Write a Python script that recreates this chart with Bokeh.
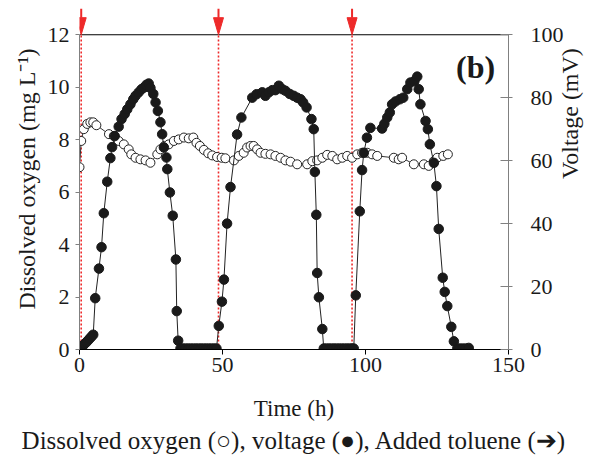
import math
from bokeh.plotting import figure
from bokeh.models import (Range1d, LinearAxis, FixedTicker, Label, Title, ColumnDataSource)
from bokeh.embed import file_html
from bokeh.resources import INLINE

# ---- data ----
do_time = [0.0, 0.6, 1.5, 2.7, 3.8, 4.8, 5.9, 10.3, 12.0, 13.7, 15.5, 17.2, 18.1, 19.6,
           21.3, 23.1, 24.8, 27.2, 28.3, 29.7, 31.2, 33.0, 34.7, 36.5, 38.2, 39.8, 40.9,
           42.1, 43.5, 45.0, 46.4, 48.1, 49.7, 51.0, 54.0, 55.7, 57.4, 58.6, 59.8, 60.9,
           62.1, 63.3, 65.0, 66.8, 68.5, 70.3, 72.0, 73.8, 76.1, 79.6, 81.4, 83.1, 84.9,
           86.6, 88.4, 90.1, 91.9, 93.6, 95.3, 97.1, 98.8, 100.6, 102.3, 104.1, 109.9,
           111.6, 112.8, 116.9, 120.4, 122.1, 123.9, 125.1, 127.2, 128.8]
do_value = [6.95, 7.95, 8.4, 8.6, 8.66, 8.66, 8.55, 8.21, 8.14, 7.95, 7.82, 7.63, 7.44, 7.31,
            7.25, 7.21, 7.12, 7.44, 7.63, 7.76, 7.82, 7.95, 8.01, 8.08, 8.05, 8.08, 7.88,
            7.76, 7.61, 7.48, 7.40, 7.34, 7.31, 7.29, 7.21, 7.38, 7.5, 7.7, 7.76, 7.76,
            7.63, 7.5, 7.46, 7.44, 7.38, 7.31, 7.21, 7.16, 7.06, 7.06, 7.18, 7.21, 7.31,
            7.42, 7.38, 7.25, 7.31, 7.38, 7.31, 7.44, 7.5, 7.5, 7.44, 7.38, 7.31,
            7.25, 7.31, 7.06, 7.06, 7.0, 7.18, 7.31, 7.38, 7.44]

volt_time = [0.0, 0.6, 1.2, 1.8, 2.4, 3.0, 3.6, 4.2, 4.8, 5.5, 6.8, 7.7, 8.5, 9.7, 10.8,
             11.4, 12.3, 13.7, 14.7, 15.8, 16.7, 17.8, 18.8, 19.6, 20.7, 21.7, 22.5, 23.4,
             24.2, 24.8, 25.8, 26.6, 27.4, 28.3, 28.9, 29.5, 30.4, 30.7, 31.6, 32.6, 33.7,
             34.0, 34.5, 35.3, 36.2, 37.1, 38.0, 38.9, 39.8, 40.7, 41.6, 42.5, 43.4, 44.3,
             45.2, 46.1, 47.0, 47.9, 48.7, 49.8, 50.5, 51.6, 52.8, 55.1, 56.6, 60.4, 61.9,
             63.9, 65.0, 66.2, 67.4, 68.5, 69.7, 70.9, 72.0, 73.5, 74.9, 76.1, 77.3, 78.2,
             79.4, 81.1, 81.9, 82.3, 82.8, 83.1, 83.7, 84.9, 85.4, 86.3, 87.2, 88.1, 89.0,
             89.9, 90.8, 91.7, 92.6, 93.5, 94.4, 95.2, 95.9, 96.6, 98.0, 98.8, 99.4, 100.5,
             101.7, 105.8, 106.6, 107.6, 108.5, 109.3, 110.5, 112.0, 113.2, 114.6, 115.7,
             117.1, 118.1, 118.6, 119.2, 121.0, 121.8, 122.5, 123.9, 124.8, 125.6, 127.0,
             127.7, 128.6, 130.0, 130.9, 132.1, 133.0, 134.0, 135.0, 136.1]
volt_value = [0.0, 0.6, 1.2, 1.8, 2.3, 2.9, 3.5, 4.1, 4.7, 16.3, 25.7, 32.5, 43.3, 53.3, 60.8,
              64.3, 67.8, 70.8, 73.2, 74.8, 76.3, 77.9, 79.5, 80.6, 81.7, 82.7, 83.2, 84.1,
              84.5, 83.1, 81.2, 78.5, 75.8, 72.2, 68.4, 64.2, 61.0, 57.3, 49.9, 42.5, 28.6,
              12.2, 2.8, 0.3, 0.3, 0.3, 0.3, 0.3, 0.3, 0.3, 0.3, 0.3, 0.3, 0.3,
              0.3, 0.3, 0.3, 0.3, 7.5, 15.2, 22.2, 40.0, 51.6, 68.3, 73.7, 80.0, 81.1,
              81.7, 80.6, 81.7, 82.4, 82.4, 83.8, 82.7, 82.2, 81.2, 80.6, 80.0, 79.5, 78.5,
              76.9, 73.2, 70.0, 56.4, 42.8, 24.3, 16.6, 6.5, 0.3, 0.3, 0.3, 0.3, 0.3,
              0.3, 0.3, 0.3, 0.3, 0.3, 0.3, 0.3, 0.3, 17.2, 43.9, 57.0, 62.5, 67.3,
              70.4, 70.2, 71.7, 73.7, 75.3, 77.9, 78.8, 79.5, 80.0, 82.7, 84.8,
              85.3, 86.7, 82.7, 77.9, 72.6, 70.0, 65.2, 59.3, 51.9, 38.3, 22.8,
              18.3, 13.8, 7.2, 2.6, 0.3, 0.3, 0.3, 0.3, 0.5]

toluene_time = [0.6, 48.6, 95.3]

x_ticks = [0, 50, 100, 150]
left_ticks = [0, 2, 4, 6, 8, 10, 12]
right_ticks = [0, 20, 40, 60, 80, 100]

X_MAX = 150
DO_MAX = 12
V_MAX = 100
Y_TOP = 13.0  # headroom above the axes for the arrows

FONT = "Liberation Serif"
RED = "#ee2a2a"
INK = "#1a1a1a"

p = figure(frame_width=429, frame_height=341, output_backend="svg", toolbar_location=None,
           x_range=Range1d(0, X_MAX), y_range=Range1d(0, Y_TOP),
           min_border_left=79, min_border_right=90, min_border_top=8,
           min_border_bottom=107, background_fill_color="white",
           border_fill_color="white", outline_line_color=None)
p.extra_y_ranges = {"v": Range1d(0, Y_TOP * V_MAX / DO_MAX)}
p.xgrid.visible = False
p.ygrid.visible = False

# axes styling
xa = p.xaxis[0]
xa.ticker = FixedTicker(ticks=x_ticks)
xa.axis_label = "Time (h)"
xa.axis_line_color = "black"
xa.major_tick_line_color = "black"
xa.major_tick_out = 5
xa.major_tick_in = 0
xa.minor_tick_line_color = None
xa.major_label_standoff = 3
xa.axis_label_standoff = 21

ya = p.yaxis[0]
ya.ticker = FixedTicker(ticks=left_ticks)
ya.bounds = (0, DO_MAX)
ya.axis_label = "Dissolved oxygen (mg L\u207b\u00b9)"
ya.axis_line_color = "#808080"
ya.major_tick_line_color = "#808080"
ya.major_tick_out = 4
ya.major_tick_in = 0
ya.minor_tick_line_color = None
ya.major_label_standoff = 6
ya.axis_label_standoff = 5

ra = LinearAxis(y_range_name="v", ticker=FixedTicker(ticks=right_ticks),
                axis_label="Voltage (mV)", bounds=(0, V_MAX))
ra.axis_line_color = "#808080"
ra.major_tick_line_color = "#808080"
ra.major_tick_out = 4
ra.major_tick_in = 8
ra.minor_tick_line_color = None
ra.major_label_standoff = 18
ra.axis_label_standoff = 3
ra.axis_label_orientation = math.pi / 2
p.add_layout(ra, "right")

for ax in (xa, ya, ra):
    ax.major_label_text_font = FONT
    ax.major_label_text_font_size = "22px"
    ax.major_label_text_color = INK
    ax.axis_label_text_font = FONT
    ax.axis_label_text_font_size = "24px"
    ax.axis_label_text_font_style = "normal"
    ax.axis_label_text_color = INK
xa.axis_label_text_font_size = "23px"

# top border line of the axes box
p.segment(x0=[0], y0=[DO_MAX], x1=[X_MAX], y1=[DO_MAX], line_color="black", line_width=1.2)

# toluene addition markers: dotted lines + arrows above the box
n = len(toluene_time)
p.segment(x0=toluene_time, y0=[0] * n, x1=toluene_time, y1=[DO_MAX] * n,
          line_color=RED, line_width=1.6, line_dash="2 2")
head_half = 1.75   # hours
head_len = 0.65    # mg/L units
p.segment(x0=toluene_time, y0=[DO_MAX + head_len] * n, x1=toluene_time, y1=[Y_TOP] * n,
          line_color=RED, line_width=2)
p.patches(xs=[[t - head_half, t + head_half, t] for t in toluene_time],
          ys=[[DO_MAX + head_len, DO_MAX + head_len, DO_MAX] for _ in toluene_time],
          fill_color=RED, line_color=RED)

# dissolved oxygen (open)
src_do = ColumnDataSource(dict(t=do_time, v=do_value))
p.line("t", "v", source=src_do, line_color="#333333", line_width=1)
p.scatter("t", "v", source=src_do, size=9, marker="circle", fill_color="white",
          line_color="#222222", line_width=1)

# voltage (filled)
src_v = ColumnDataSource(dict(t=volt_time, v=volt_value))
p.line("t", "v", source=src_v, y_range_name="v", line_color="#222222", line_width=1)
p.scatter("t", "v", source=src_v, y_range_name="v", size=9.5, marker="circle",
          fill_color=INK, line_color=INK)

p.add_layout(Label(x=138.5, y=10.78, text="(b)", text_font=FONT, text_font_size="32px",
                   text_font_style="bold", text_align="center", text_baseline="middle",
                   text_color=INK))

p.add_layout(Title(text="Dissolved oxygen (\u25cb), voltage (\u25cf), Added toluene (\u2794)",
                   align="center", text_font=FONT, text_font_size="25px", standoff=3,
                   text_font_style="normal", text_color=INK), "below")

open("out.html", "w").write(file_html(p, INLINE))
